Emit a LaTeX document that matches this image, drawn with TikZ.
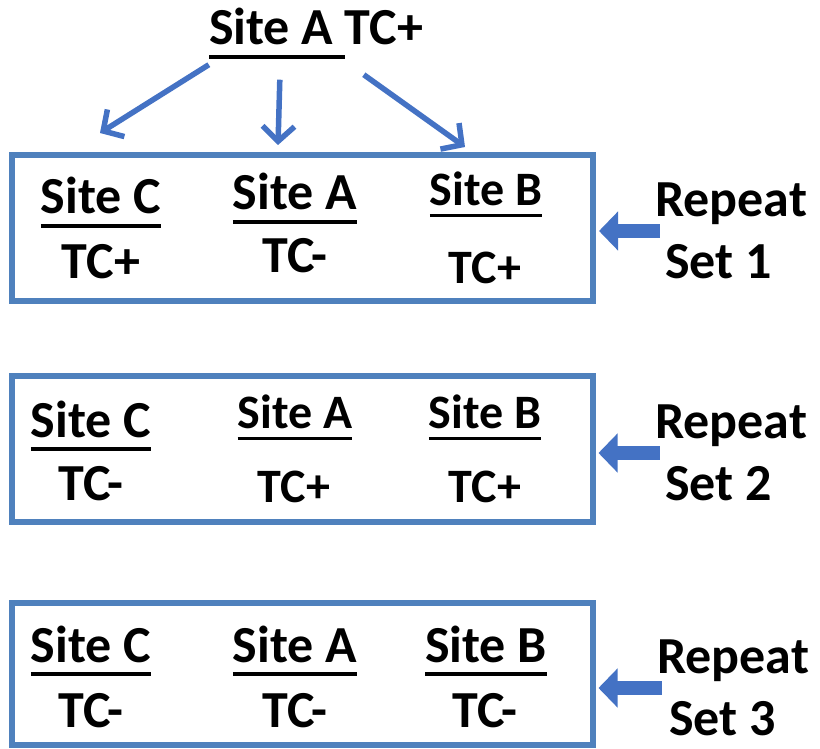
\documentclass[tikz,border=0pt]{standalone}
\usepackage{fontspec}
\setmainfont{Carlito}
\usetikzlibrary{arrows.meta}

\definecolor{boxblue}{RGB}{79,129,189}
\definecolor{arrowblue}{RGB}{68,114,196}

% underline as thick as in the slide
\newcommand{\siteul}[1]{\setbox0\hbox{#1}\rlap{\rule[-0.26em]{\wd0}{0.075em}}\box0}

\tikzset{
  big/.style={font=\fontsize{52}{62}\selectfont\bfseries, inner sep=0pt, anchor=base},
  small/.style={font=\fontsize{48}{58}\selectfont\bfseries, inner sep=0pt, anchor=base},
  rep/.style={font=\fontsize{52}{62}\selectfont\bfseries, inner sep=0pt, align=left},
  setbox/.style={draw=boxblue, line width=6pt, minimum width=581pt, minimum height=146pt, inner sep=0pt},
  link/.style={draw=arrowblue, line width=5.5pt, -{Straight Barb[length=15pt,width=32pt]}},
  push/.style={draw=arrowblue, line width=14pt, -{Triangle[length=19pt,width=38pt]}, shorten >=3pt}
}

\begin{document}
\begin{tikzpicture}[x=1pt,y=-1pt]
\useasboundingbox (0,0) rectangle (820,749);

% where the samples come from
\node[big] (top) at (316,45) {\siteul{Site A }TC+};

% the three sets
\node[setbox] (box1) at (302.5,228) {};
\node[setbox] (box2) at (302,449) {};
\node[setbox, minimum height=142pt] (box3) at (302,674) {};

% set 1
\node[big] (c1) at (101,214) {\siteul{Site C}};
\node[big] (c1tc) at (101,278) {TC+};
\node[big] (a1) at (295,210) {\siteul{Site A}};
\node[big] (a1tc) at (295,272) {TC-};
\node[small] (b1) at (486,205) {\siteul{Site B}};
\node[small] (b1tc) at (485,283) {TC+};

% set 2
\node[big] (c2) at (91,437) {\siteul{Site C}};
\node[big] (c2tc) at (91,500) {TC-};
\node[small] (a2) at (295,428) {\siteul{Site A}};
\node[small] (a2tc) at (294,502) {TC+};
\node[small] (b2) at (485,428) {\siteul{Site B}};
\node[small] (b2tc) at (485,502) {TC+};

% set 3
\node[big] (c3) at (91,662) {\siteul{Site C}};
\node[big] (c3tc) at (91,727) {TC-};
\node[big] (a3) at (295,662) {\siteul{Site A}};
\node[big] (a3tc) at (295,727) {TC-};
\node[big] (b3) at (486,662) {\siteul{Site B}};
\node[big] (b3tc) at (485,727) {TC-};

% arrows from the top label
\coordinate (e1) at (100,133);
\coordinate (e2) at (278,145);
\coordinate (e3) at (465,147);
\draw[link] ([yshift=-6pt]top.south west) -- (e1);
\draw[link] ([xshift=71pt,yshift=-21pt]top.south west) -- (e2);
\draw[link] ([xshift=155pt,yshift=-16pt]top.south west) -- (e3);

% repeat labels
\node[rep] (r1) at (731,231) {Repeat\\\hspace*{10pt}Set 1};
\node[rep] (r2) at (731,453) {Repeat\\\hspace*{10pt}Set 2};
\node[rep] (r3) at (733,688) {Repeat\\\hspace*{12pt}Set 3};

\draw[push] ([xshift=5pt]r1.west) -- (r1.west -| box1.east);
\draw[push] ([xshift=5pt]r2.west) -- (r2.west -| box2.east);
\draw[push] ([xshift=5pt]r3.west) -- (r3.west -| box3.east);

\end{tikzpicture}
\end{document}
